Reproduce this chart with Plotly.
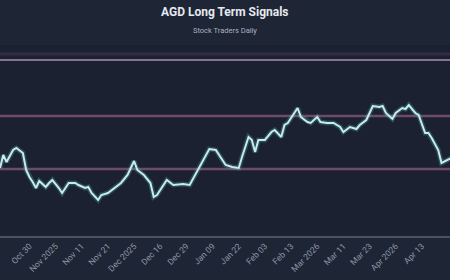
import plotly.graph_objects as go

# Trading-session index of each sampled point and the closing price
session = [0, 1, 2, 4, 5, 7, 8, 9, 10, 11,
           12, 14, 15, 16, 18, 19, 21, 23, 24, 26,
           27, 28, 30, 31, 33, 35, 37, 39, 40, 41,
           42, 44, 46, 47, 48, 50, 51, 53, 56, 58,
           60, 62, 64, 66, 68, 69, 71, 73, 74, 76,
           77, 78, 79, 81, 83, 84, 86, 87, 88, 90,
           91, 92, 94, 95, 97, 98, 100, 102, 104, 105,
           107, 109, 110, 112, 114, 116, 117, 118, 120, 121,
           123, 124, 125, 127, 128, 130, 131, 132, 134, 135,
           138]
price = [11.12, 11.25, 11.18, 11.30, 11.32, 11.27, 11.10, 11.03, 10.98, 10.92,
         10.99, 10.93, 10.97, 11.00, 10.92, 10.87, 10.97, 10.97, 10.95, 10.92,
         10.93, 10.87, 10.80, 10.85, 10.87, 10.92, 10.97, 11.05, 11.12, 11.19,
         11.10, 11.05, 10.97, 10.83, 10.85, 10.95, 11.00, 10.95, 10.96, 10.95,
         11.07, 11.20, 11.31, 11.30, 11.20, 11.15, 11.13, 11.12, 11.23, 11.43,
         11.40, 11.28, 11.40, 11.40, 11.48, 11.50, 11.43, 11.55, 11.57, 11.67,
         11.72, 11.63, 11.58, 11.57, 11.63, 11.58, 11.57, 11.57, 11.53, 11.48,
         11.53, 11.51, 11.55, 11.60, 11.74, 11.73, 11.74, 11.67, 11.61, 11.67,
         11.72, 11.71, 11.75, 11.67, 11.65, 11.47, 11.47, 11.42, 11.30, 11.17,
         11.22]

# Signal levels
support = 11.11
mid_level = 11.64
resistance = 12.20
upper_band = 12.26

# Tick labels
tick_sessions = [1, 9, 17, 25, 33, 41, 49, 57, 65, 73, 81, 89, 97, 105, 113, 121, 129, 137]
tick_labels = ["Oct 20", "Oct 30", "Nov 2025", "Nov 11", "Nov 21", "Dec 2025",
               "Dec 16", "Dec 29", "Jan 09", "Jan 22", "Feb 03", "Feb 13",
               "Mar 2026", "Mar 11", "Mar 23", "Apr 2026", "Apr 13", "Apr 23"]

fig = go.Figure()
# glow
fig.add_trace(go.Scatter(x=session, y=price, mode="lines",
                         line=dict(color="rgba(90,200,200,0.25)", width=5),
                         hoverinfo="skip", showlegend=False))
fig.add_trace(go.Scatter(x=session, y=price, mode="lines",
                         line=dict(color="#c6ecea", width=2),
                         showlegend=False))

fig.add_hline(y=upper_band, line=dict(color="rgba(110,65,100,0.3)", width=3), layer="below")
fig.add_hline(y=resistance, line=dict(color="rgba(180,150,185,0.7)", width=2), layer="below")
fig.add_hline(y=mid_level, line=dict(color="rgba(165,105,145,0.6)", width=2.5), layer="below")
fig.add_hline(y=support, line=dict(color="rgba(165,105,145,0.6)", width=2.5), layer="below")

fig.update_layout(
    width=450, height=280,
    margin=dict(l=0, r=0, t=45, b=44),
    paper_bgcolor="#1e2535",
    plot_bgcolor="#1b2130",
    font=dict(family="Roboto, Open Sans, sans-serif", color="#8d96a8"),
    annotations=[
        dict(text="<b>AGD Long Term Signals</b>", x=0.5, y=12, xref="paper", yref="paper",
             yanchor="middle", showarrow=False, font=dict(size=12, color="#e6e9ef")),
        dict(text="Stock Traders Daily", x=0.5, y=30, xref="paper", yref="paper",
             yanchor="middle", showarrow=False, font=dict(size=7.5, color="#aab2c2")),
    ],
)
# convert annotation y (pixels from top) to paper coords
plot_h = 280 - 45 - 44
for a in fig.layout.annotations:
    a.y = 1 + (45 - a.y) / plot_h

fig.update_xaxes(range=[0, 137.6], showgrid=False, zeroline=False,
                 showline=True, linecolor="#4a5264", linewidth=2,
                 tickmode="array", tickvals=tick_sessions, ticktext=tick_labels,
                 tickangle=-45, tickfont=dict(size=8.5, color="#8d96a8"),
                 ticks="", automargin=False)
fig.update_yaxes(range=[10.44, 12.35], showgrid=False, zeroline=False,
                 showticklabels=False, automargin=False)

fig.write_html("out.html")
